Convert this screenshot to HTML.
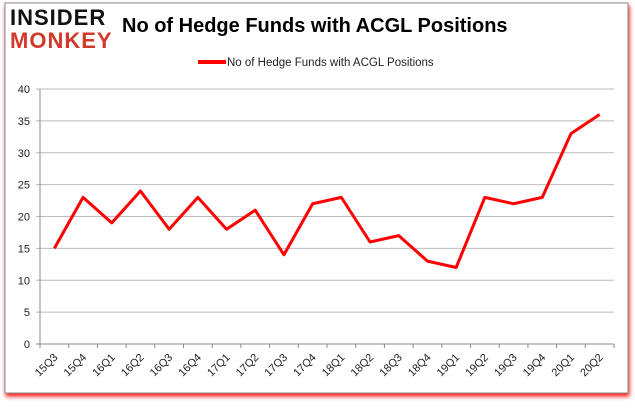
<!DOCTYPE html>
<html><head><meta charset="utf-8"><style>
body{margin:0;background:#fff;}
svg text{font-family:"Liberation Sans",sans-serif;}
</style></head><body>
<svg id="chart" width="635" height="405" xmlns="http://www.w3.org/2000/svg">
<defs><filter id="sh" x="-5%" y="-5%" width="110%" height="115%"><feDropShadow dx="1" dy="3" stdDeviation="2" flood-color="#ff0000" flood-opacity="0.9"/></filter></defs>
<rect x="5" y="3" width="623" height="390" fill="#fff" stroke="#888" stroke-width="1" filter="url(#sh)"/>
<g>
<text x="10" y="25" font-size="22" font-weight="bold" fill="#111" style="letter-spacing:1px">INSIDER</text>
<text x="10" y="48" font-size="22" font-weight="bold" fill="#d0392b" style="letter-spacing:1px">MONKEY</text>
</g>
<text x="122" y="32" font-size="20" font-weight="bold" fill="#000">No of Hedge Funds with ACGL Positions</text>
<line x1="198" y1="62" x2="226" y2="62" stroke="#ff0000" stroke-width="4"/>
<text x="227" y="66" font-size="11.5" fill="#222">No of Hedge Funds with ACGL Positions</text>
<g id="grid"></g><g id="axes"></g><g id="series"></g>
</svg>
<script>
const categories=["15Q3","15Q4","16Q1","16Q2","16Q3","16Q4","17Q1","17Q2","17Q3","17Q4","18Q1","18Q2","18Q3","18Q4","19Q1","19Q2","19Q3","19Q4","20Q1","20Q2"];
const values=[15,23,19,24,18,23,18,21,14,22,23,16,17,13,12,23,22,23,33,36];
const yTicks=[0,5,10,15,20,25,30,35,40];
const NS="http://www.w3.org/2000/svg";
const L=40,R=614,T=89,B=344;
const step=(R-L)/categories.length;
const x=i=>L+step*(i+0.5);
const y=v=>B-(v/40)*(B-T);
function mk(tag,attrs,parent){const e=document.createElementNS(NS,tag);for(const k in attrs)e.setAttribute(k,attrs[k]);parent.appendChild(e);return e;}
const grid=document.getElementById('grid'),axes=document.getElementById('axes'),series=document.getElementById('series');
yTicks.forEach(t=>{
 const g=mk('line',{x1:L-4,x2:R,y1:y(t),y2:y(t),stroke:t===0?'#888':'#bbb','stroke-width':1},grid);
 
 
 const tx=mk('text',{x:L-10,y:y(t)+4,'font-size':11,'text-anchor':'end',fill:'#222'},axes);
 tx.textContent=t;
 
 
});
const ya=mk('line',{x1:L,x2:L,y1:T,y2:B,stroke:'#888'},axes);


categories.forEach((c,i)=>{
 const tk=mk('line',{x1:L+step*i,x2:L+step*i,y1:B,y2:B+4,stroke:'#888'},axes);
 
 
 const tx=mk('text',{x:x(i)+4,y:B+14,'font-size':11,'text-anchor':'end',fill:'#222',transform:`rotate(-45 ${x(i)+4} ${B+14})`},axes);
 tx.textContent=c;
 
 
});
const tk=mk('line',{x1:R,x2:R,y1:B,y2:B+4,stroke:'#888'},axes);


const pl=mk('polyline',{points:values.map((v,i)=>x(i)+','+y(v)).join(' '),fill:'none',stroke:'#ff0000','stroke-width':3,'stroke-linejoin':'round'},series);


</script>
</body></html>
